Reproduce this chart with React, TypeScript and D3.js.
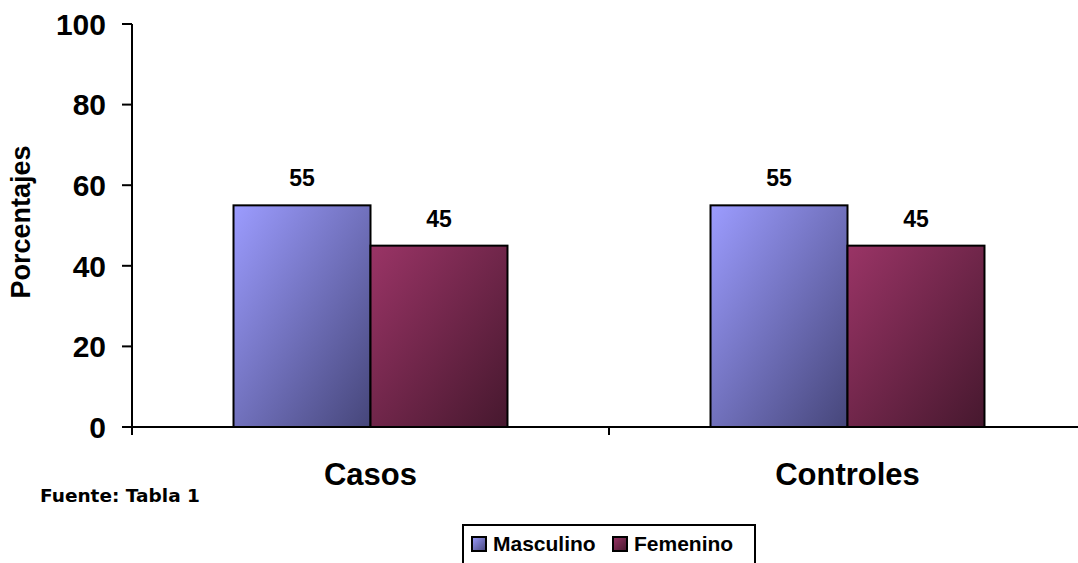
import React from "react";
import * as d3 from "d3";

const categories = ["Casos", "Controles"];
const seriesNames = ["Masculino", "Femenino"];
const masculino = [55, 55];
const femenino = [45, 45];
const yTicks = [0, 20, 40, 60, 80, 100];

const W = 1078;
const H = 563;

export default function App() {
  const x = d3.scaleBand<string>().domain(categories).range([132, 1086]).paddingInner(0).paddingOuter(0);
  const y = d3.scaleLinear().domain([0, 100]).range([427, 24]);
  const inner = d3.scaleBand<string>().domain(seriesNames).range([0, x.bandwidth()]).paddingInner(0).paddingOuter(0.741);
  const values: Record<string, number[]> = { Masculino: masculino, Femenino: femenino };
  const gradIds: Record<string, string> = { Masculino: "gradM", Femenino: "gradF" };
  const font = "Arial, 'Liberation Sans', sans-serif";

  return (
    <svg width={W} height={H} style={{ position: "absolute", left: 0, top: 0, background: "#fff" }}>
      <defs>
        <linearGradient id="gradM" x1="0" y1="0" x2="1" y2="1">
          <stop offset="0%" stopColor="#9C9CFF" />
          <stop offset="100%" stopColor="#46467A" />
        </linearGradient>
        <linearGradient id="gradF" x1="0" y1="0" x2="1" y2="1">
          <stop offset="0%" stopColor="#9A3466" />
          <stop offset="100%" stopColor="#46182E" />
        </linearGradient>
      </defs>
      {/* bars */}
      {categories.map((c, ci) =>
        seriesNames.map((s) => {
          const v = values[s][ci];
          const bx = (x(c) as number) + (inner(s) as number);
          const bw = inner.bandwidth();
          return (
            <g key={c + s}>
              <rect x={bx} y={y(v)} width={bw} height={y(0) - y(v)} fill={`url(#${gradIds[s]})`} stroke="#000" strokeWidth={2} />
              <text x={bx + bw / 2} y={y(v) - 19} textAnchor="middle" fontFamily={font} fontWeight="bold" fontSize={23} fill="#000">
                {v}
              </text>
            </g>
          );
        })
      )}
      {/* y axis */}
      <line x1={132} x2={132} y1={y(100)} y2={y(0) + 8} stroke="#000" strokeWidth={2} />
      {yTicks.map((t) => (
        <g key={t}>
          <line x1={122} x2={132} y1={y(t)} y2={y(t)} stroke="#000" strokeWidth={2} />
          <text x={106} y={y(t)} dy="0.36em" textAnchor="end" fontFamily={font} fontWeight="bold" fontSize={30} fill="#000">
            {t}
          </text>
        </g>
      ))}
      {/* x axis */}
      <line x1={122} x2={1078} y1={y(0)} y2={y(0)} stroke="#000" strokeWidth={2} />
      {categories.slice(1).map((c) => (
        <line key={c} x1={x(c) as number} x2={x(c) as number} y1={y(0)} y2={y(0) + 8} stroke="#000" strokeWidth={2} />
      ))}
      {categories.map((c) => (
        <text key={c} x={(x(c) as number) + x.bandwidth() / 2} y={485} textAnchor="middle" fontFamily={font} fontWeight="bold" fontSize={31} fill="#000">
          {c}
        </text>
      ))}
      {/* y title */}
      <text transform="translate(30,222) rotate(-90)" textAnchor="middle" fontFamily={font} fontWeight="bold" fontSize={27} fill="#000">
        Porcentajes
      </text>
      {/* source */}
      <text x={40} y={502} fontFamily="'DejaVu Sans', Verdana, sans-serif" fontWeight="bold" fontSize={18.5} fill="#000">
        Fuente: Tabla 1
      </text>
      {/* legend */}
      <rect x={463} y={525} width={292} height={42} fill="#fff" stroke="#000" strokeWidth={2} />
      {seriesNames.map((s, i) => {
        const lx = i === 0 ? 472 : 613;
        return (
          <g key={s}>
            <rect x={lx} y={537} width={14} height={14} fill={`url(#${gradIds[s]})`} stroke="#000" strokeWidth={2} />
            <text x={lx + 21} y={551} fontFamily={font} fontWeight="bold" fontSize={21} fill="#000">
              {s}
            </text>
          </g>
        );
      })}
    </svg>
  );
}
